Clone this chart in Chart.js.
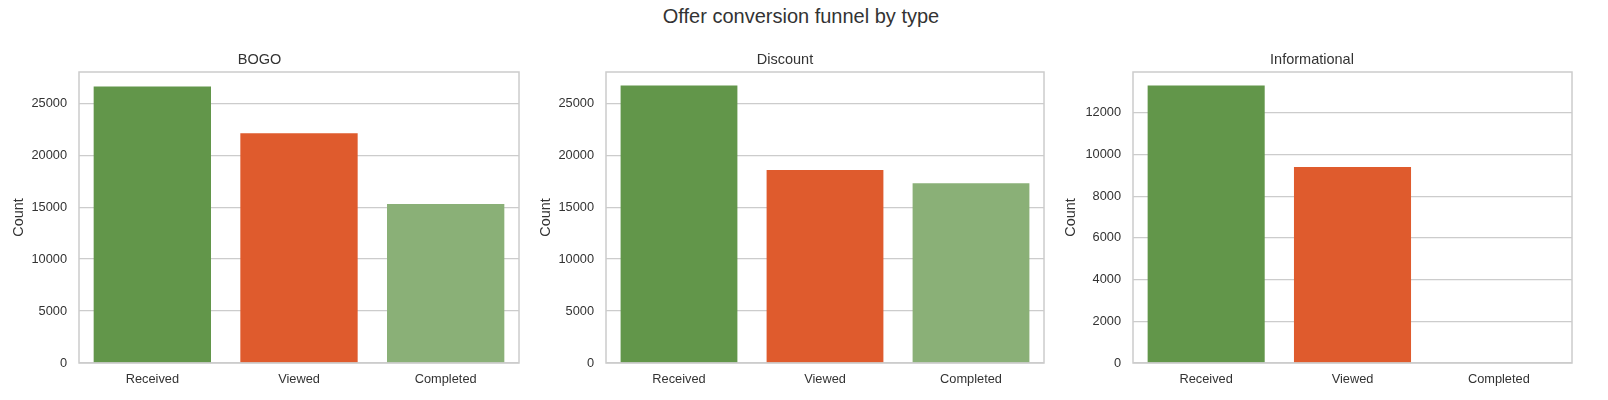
<!DOCTYPE html>
<html>
<head>
<meta charset="utf-8">
<script src="https://cdn.jsdelivr.net/npm/chart.js"></script>
<style>
  body { margin: 0; background: #fff; }
  #wrap { position: relative; width: 1608px; height: 400px; overflow: hidden; }
  #suptitle {
    position: absolute; left: 0; top: 4px; width: 1602px; text-align: center;
    font: 20px "Liberation Sans", Arial, sans-serif; line-height: 24px; color: #333333;
  }
  canvas { position: absolute; top: 0; }
</style>
</head>
<body>
<div id="wrap">
  <div id="suptitle">Offer conversion funnel by type</div>
  <canvas id="bogo" width="526" height="400" style="left:0px"></canvas>
  <canvas id="discount" width="526" height="400" style="left:526px"></canvas>
  <canvas id="info" width="556" height="400" style="left:1052px"></canvas>
</div>
<script>
const categories = ['Received', 'Viewed', 'Completed'];
const bogoCounts = [26600, 22100, 15300];
const discountCounts = [26700, 18570, 17290];
const infoCounts = [13300, 9390, 0];
const countTicks = [0, 5000, 10000, 15000, 20000, 25000];
const infoTicks = [0, 2000, 4000, 6000, 8000, 10000, 12000];
const barColors = ['#62964a', '#df5b2d', '#8ab077'];

const FONT = "'Liberation Sans', Arial, sans-serif";
const TEXT = '#333333';
const GRID = '#cccccc';

// draws the light grey box round the plot area, like seaborn whitegrid
const boxPlugin = {
  id: 'axesBox',
  afterDatasetsDraw(chart) {
    const { ctx, chartArea: a } = chart;
    ctx.save();
    ctx.strokeStyle = GRID;
    ctx.lineWidth = 1.5;
    ctx.strokeRect(a.left, a.top, a.right - a.left, a.bottom - a.top);
    ctx.restore();
  }
};

function makePanel(id, title, values, yMax, ticks, axisWidth, padRight, titlePad) {
  const ctx = document.getElementById(id).getContext('2d');
  return new Chart(ctx, {
    type: 'bar',
    data: {
      labels: categories,
      datasets: [{
        label: title,
        data: values,
        backgroundColor: barColors,
        barPercentage: 0.8,
        categoryPercentage: 1.0,
      }]
    },
    options: {
      responsive: false,
      animation: false,
      layout: { padding: { left: 0, right: padRight, top: 0, bottom: 0 } },
      scales: {
        x: {
          grid: { display: false },
          border: { display: false },
          ticks: {
            color: TEXT,
            padding: 1,
            maxRotation: 0,
            font: { family: FONT, size: 12.8 }
          },
          afterFit(scale) { scale.height = 37; }
        },
        y: {
          min: 0,
          max: yMax,
          border: { display: false },
          grid: { color: GRID, lineWidth: 1.2, drawTicks: false },
          ticks: {
            color: TEXT,
            padding: 12,
            font: { family: FONT, size: 12.8 },
            callback: (v) => String(v)
          },
          afterBuildTicks(scale) {
            scale.ticks = ticks.map(v => ({ value: v }));
          },
          title: {
            display: true,
            text: 'Count',
            color: TEXT,
            font: { family: FONT, size: 14.4, weight: 'normal' },
            padding: { top: titlePad, bottom: 0 }
          },
          afterFit(scale) { scale.width = axisWidth; }
        }
      },
      plugins: {
        legend: { display: false },
        tooltip: { enabled: false },
        title: {
          display: true,
          text: title,
          color: TEXT,
          font: { family: FONT, size: 14.5, weight: 'normal' },
          padding: { top: 51, bottom: 3.6 }
        }
      }
    },
    plugins: [boxPlugin]
  });
}

makePanel('bogo', 'BOGO', bogoCounts, 28000, countTicks, 79, 7, 10.4);
makePanel('discount', 'Discount', discountCounts, 28000, countTicks, 80, 8, 11.4);
makePanel('info', 'Informational', infoCounts, 13950, infoTicks, 81, 36, 10.4);
</script>
</body>
</html>
